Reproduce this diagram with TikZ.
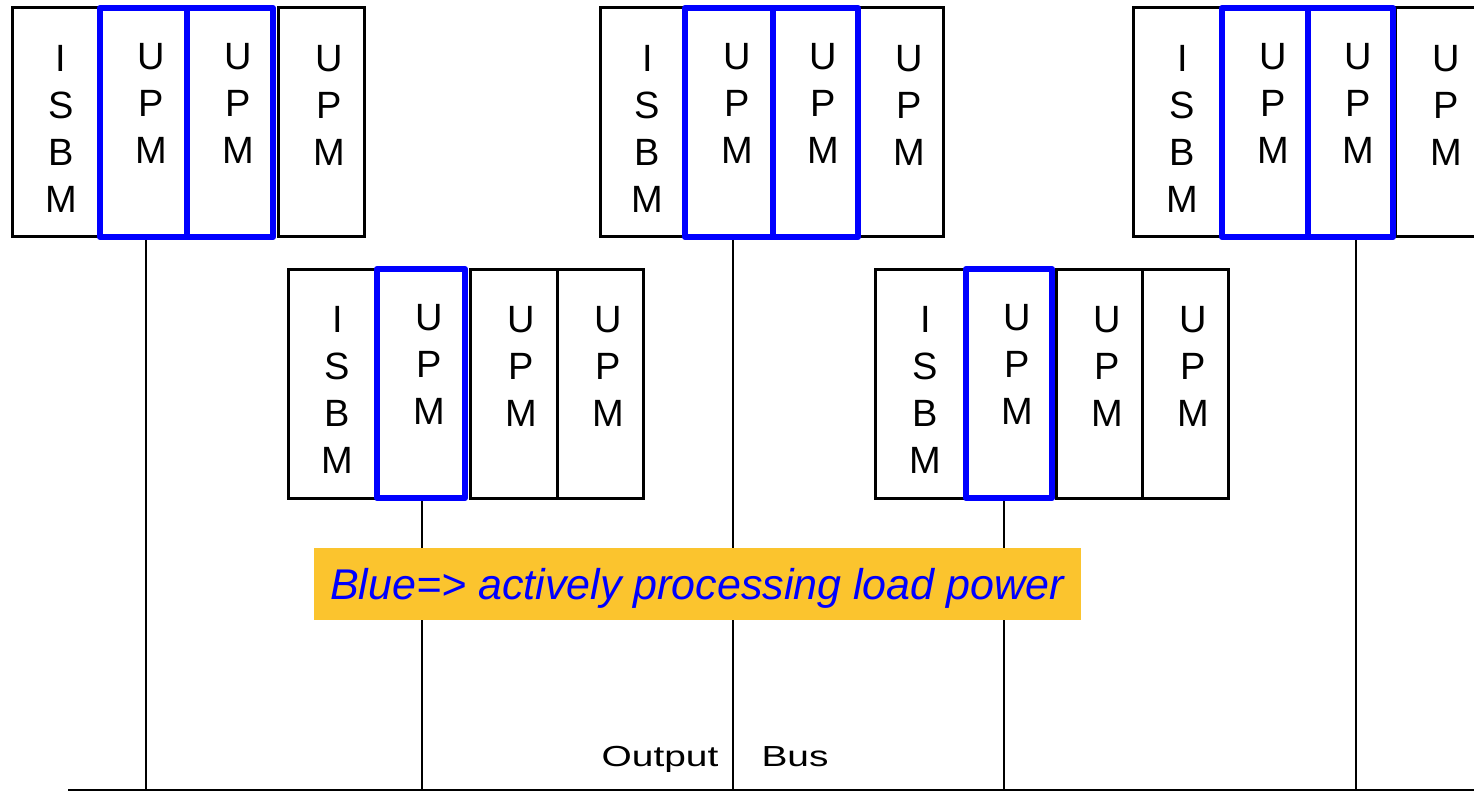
\documentclass[tikz,border=0pt]{standalone}
\usepackage{fontspec}
\setmainfont{Liberation Sans}
\definecolor{activeblue}{RGB}{0,0,255}
\definecolor{notegold}{RGB}{251,196,46}

% rectangular module outline given by left, right, top, bottom (in picture units)
\newcommand\modbox[6]{%
  \node[#6, minimum width={(#3-#2)*0.5pt}, minimum height={(#5-#4)*0.5pt}]
    (#1) at ({(#2+#3)/2},{(#4+#5)/2}) {};}
% vertical letter stack inside a module
\newcommand\modtext[3]{%
  \node[letters, anchor=north] (#1t) at ([xshift=#3, yshift=-19pt]#1.north) {#2};}

\begin{document}
\begin{tikzpicture}[x=0.5pt, y=-0.5pt,
    idle/.style={draw=black, line width=1.5pt, inner sep=0pt},
    active/.style={draw=activeblue, line width=3pt, line join=round, inner sep=0pt},
    letters/.style={align=center, inner sep=0pt, font=\fontsize{19}{23.5}\selectfont},
    conn/.style={draw=black, line width=0.65pt},
    bus/.style={draw=black, line width=1.2pt},
    bustext/.style={inner sep=0pt, font=\fontsize{14.5}{17}\selectfont},
    note/.style={fill=notegold, text=activeblue, inner sep=0pt, text depth=0pt,
      font=\fontsize{21.5}{25}\selectfont\itshape}]
\useasboundingbox (0,0) rectangle (1474,792);
\clip (0,0) rectangle (1474,792);

% ---- upper row of chassis ----
\modbox{a0}{12}{100}{8}{237}{idle}
\modbox{a3}{278}{364}{8}{237}{idle}
\modbox{a1}{100}{187}{8}{237}{active}
\modbox{a2}{187}{273}{8}{237}{active}

\modbox{b0}{600}{685}{8}{237}{idle}
\modbox{b3}{859}{943}{8}{237}{idle}
\modbox{b1}{685}{773}{8}{237}{active}
\modbox{b2}{773}{858}{8}{237}{active}

\modbox{c0}{1133}{1222}{8}{237}{idle}
\modbox{c3}{1395}{1482}{8}{237}{idle}
\modbox{c1}{1222}{1308}{8}{237}{active}
\modbox{c2}{1308}{1393}{8}{237}{active}

% ---- lower row of chassis ----
\modbox{d0}{288}{377}{269}{498}{idle}
\modbox{d2}{470}{557}{269}{498}{idle}
\modbox{d3}{557}{643}{269}{498}{idle}
\modbox{d1}{377}{465}{269}{498}{active}

\modbox{e0}{875}{966}{269}{498}{idle}
\modbox{e2}{1056}{1142}{269}{498}{idle}
\modbox{e3}{1142}{1228}{269}{498}{idle}
\modbox{e1}{966}{1052}{269}{498}{active}

% ---- module labels ----
\foreach \m in {a0,b0,c0,d0,e0}{\modtext{\m}{I\\S\\B\\M}{2.5pt}}
\foreach \m in {a1,a2,a3,b1,b2,b3,c1,c2,c3,d1,d2,d3,e1,e2,e3}{\modtext{\m}{U\\P\\M}{4pt}}

% ---- output bus and feeders ----
\coordinate (busL) at (68,790);
\coordinate (busR) at (1480,790);
\coordinate (pa) at (146,790);
\coordinate (pb) at (733,790);
\coordinate (pc) at (1356,790);
\coordinate (pd) at (422,790);
\coordinate (pe) at (1004,790);
\draw[bus] (busL) -- (busR);
\draw[conn] (a1.south -| pa) -- (pa);
\draw[conn] (b1.south -| pb) -- (pb);
\draw[conn] (c2.south -| pc) -- (pc);
\draw[conn] (d1.south -| pd) -- (pd);
\draw[conn] (e1.south -| pe) -- (pe);

\node[bustext, anchor=base] (outlbl) at (660,766) {\scalebox{1.34}[1]{Output}};
\node[bustext, anchor=base] (buslbl) at (795,766) {\scalebox{1.34}[1]{Bus}};

% ---- legend ----
\node[note, minimum width=383.5pt, minimum height=36pt] (legend) at (697,584)
  {Blue=> actively processing load power};
\end{tikzpicture}
\end{document}
